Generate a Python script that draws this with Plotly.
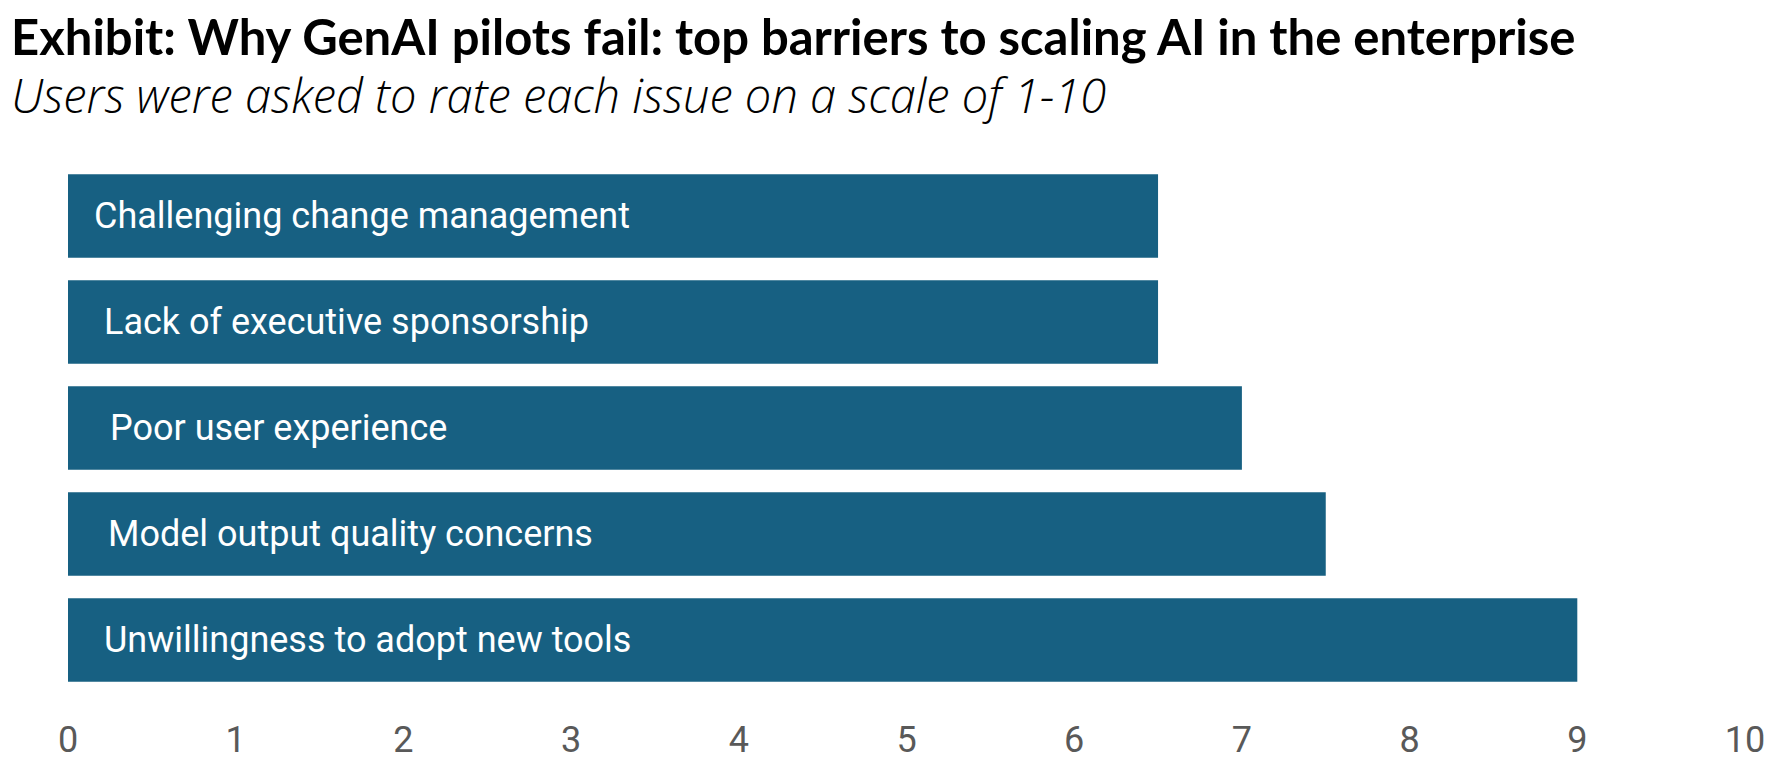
import plotly.graph_objects as go

# data, top bar first
issues = [
    "Challenging change management",
    "Lack of executive sponsorship",
    "Poor user experience",
    "Model output quality concerns",
    "Unwillingness to adopt new tools",
]
scores = [6.5, 6.5, 7.0, 7.5, 9.0]
x_ticks = list(range(0, 11))

title_text = "Exhibit: Why GenAI pilots fail: top barriers to scaling AI in the enterprise"
subtitle_text = "Users were asked to rate each issue on a scale of 1-10"

W, H = 1776, 765
ml, mr, mt, mb = 60, 39, 155, 67
bar_color = "#176082"
label_shift = [24, 34, 40, 38, 34]  # text offset inside each bar, px

fig = go.Figure(go.Bar(
    x=scores, y=issues, orientation="h",
    marker=dict(color=bar_color, line=dict(width=0)),
    width=0.79,
    hovertemplate="%{y}: %{x}<extra></extra>",
))

for name, dx in zip(issues, label_shift):
    fig.add_annotation(x=0, y=name, text=name, showarrow=False,
                       xanchor="left", xshift=dx,
                       font=dict(family="Roboto", size=36, color="white"))

pw = W - ml - mr
ph = H - mt - mb
fig.add_annotation(xref="paper", yref="paper",
                   x=(2 - ml) / pw, y=1 + (mt + 6) / ph,
                   xanchor="left", yanchor="top", showarrow=False,
                   borderpad=0,
                   text="<b>" + title_text + "</b>",
                   font=dict(family="Lato", size=49, color="black"))
fig.add_annotation(xref="paper", yref="paper",
                   x=(2 - ml) / pw, y=1 + (mt - 85) / ph,
                   xanchor="left", yanchor="middle", showarrow=False,
                   borderpad=0,
                   text="<i>" + subtitle_text + "</i>",
                   font=dict(family="Open Sans", size=47, color="black",
                             weight=300))

fig.update_xaxes(range=[0, 10], tickvals=x_ticks, showgrid=False,
                 zeroline=False, showline=False, ticks="",
                 ticklabelstandoff=22,
                 tickfont=dict(family="Roboto", size=36, color="#595959"))
fig.update_yaxes(autorange="reversed", showticklabels=False,
                 showgrid=False, zeroline=False, showline=False)

fig.update_layout(
    width=W, height=H,
    margin=dict(l=ml, r=mr, t=mt, b=mb),
    plot_bgcolor="white", paper_bgcolor="white",
    showlegend=False,
)

fig.write_html("out.html")
